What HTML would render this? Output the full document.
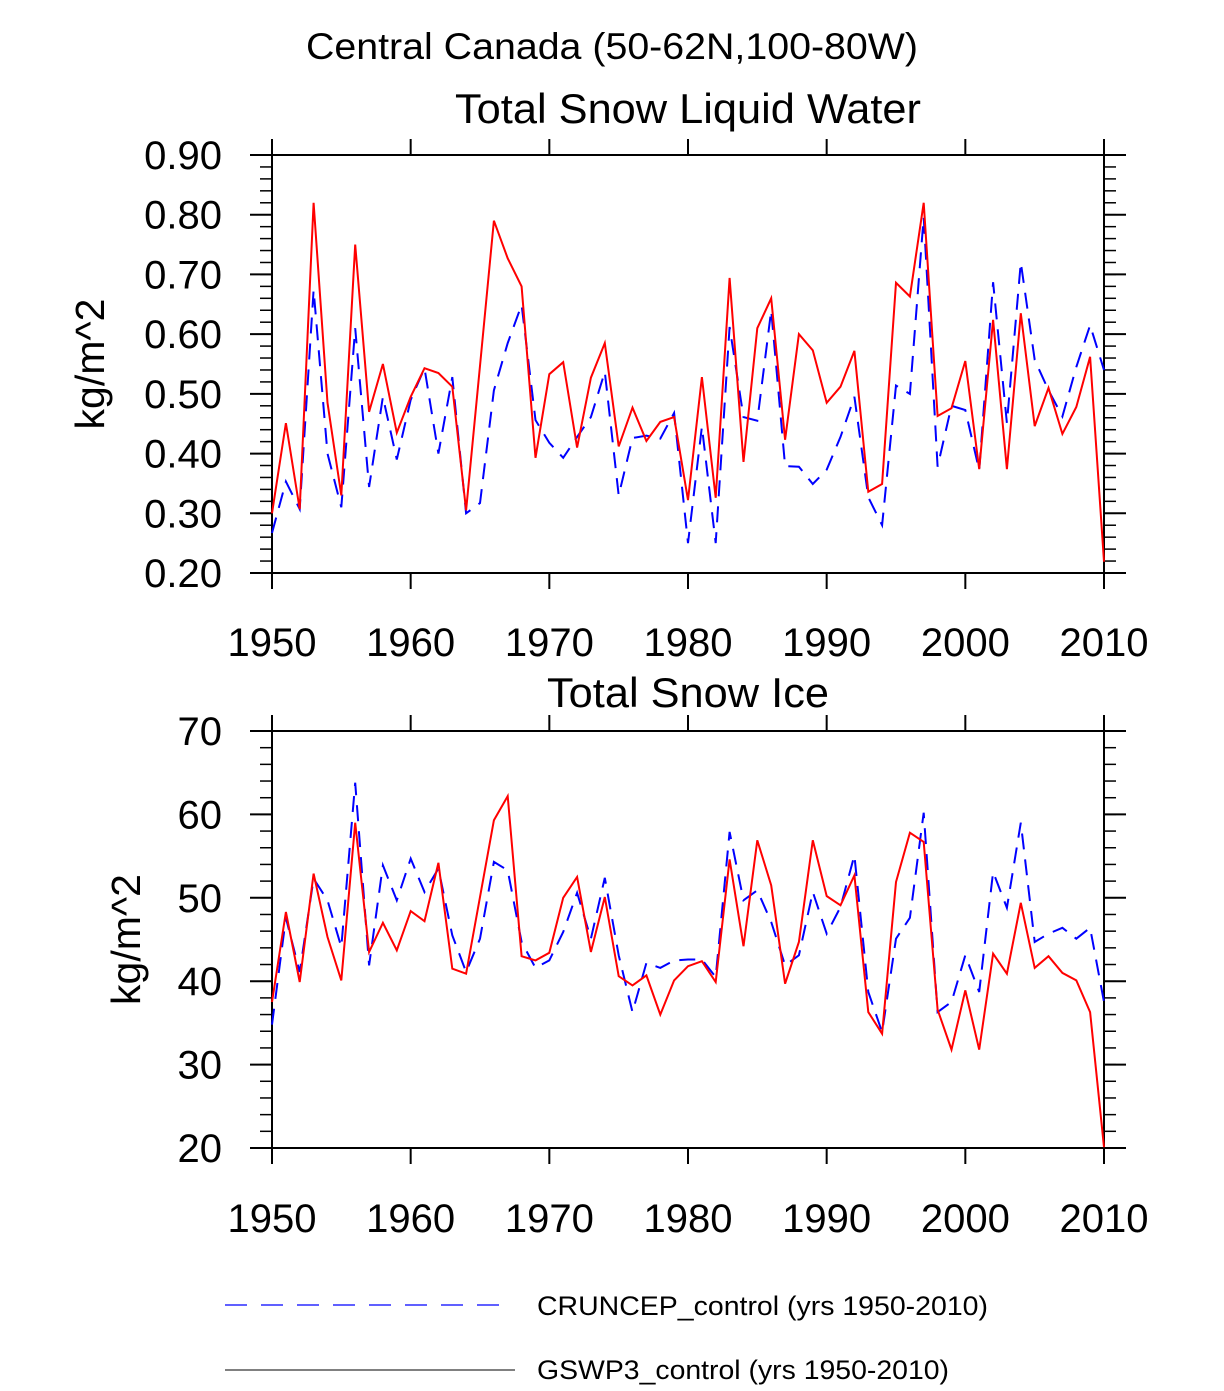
<!DOCTYPE html>
<html><head><meta charset="utf-8"><style>
body{margin:0;background:#fff}
svg text{font-family:"Liberation Sans",sans-serif;fill:#000}
</style></head><body>
<svg id="chart" width="1224" height="1386" viewBox="0 0 1224 1386" xmlns="http://www.w3.org/2000/svg">
<text x="612" y="59" font-size="37" text-anchor="middle" textLength="612" lengthAdjust="spacingAndGlyphs">Central Canada (50-62N,100-80W)</text>
<g id="p1"></g>
<g id="p2"></g>
<g>
<line x1="225" y1="1305" x2="505" y2="1305" stroke="#00f" stroke-width="1.3" stroke-dasharray="22,14"/>
<text x="537" y="1315" font-size="27" textLength="451" lengthAdjust="spacingAndGlyphs">CRUNCEP_control (yrs 1950-2010)</text>
<line x1="225" y1="1370" x2="515" y2="1370" stroke="#000" stroke-width="1"/>
<text x="537" y="1379" font-size="27" textLength="412" lengthAdjust="spacingAndGlyphs">GSWP3_control (yrs 1950-2010)</text>
</g>
</svg>
<script>
const years = [];
for (let y = 1950; y <= 2010; y++) years.push(y);
const liquidGSWP3 = [0.30,0.451,0.307,0.82,0.485,0.33,0.75,0.47,0.55,0.435,0.495,0.543,0.535,0.512,0.305,0.547,0.79,0.727,0.68,0.393,0.533,0.553,0.41,0.527,0.585,0.412,0.477,0.421,0.453,0.461,
0.322,0.528,0.326,0.694,0.386,0.61,0.66,0.423,0.60,0.573,0.485,0.512,0.572,0.336,0.349,0.686,0.663,0.82,0.463,0.476,0.555,0.374,0.624,0.374,0.635,0.446,0.51,0.433,0.478,0.562,0.219];
const liquidCRU = [0.267,0.353,0.307,0.674,0.40,0.31,0.61,0.344,0.495,0.39,0.49,0.543,0.40,0.528,0.30,0.317,0.506,0.585,0.649,0.456,0.418,0.393,0.428,0.461,0.537,0.33,0.426,0.43,0.425,0.468,
0.25,0.445,0.25,0.612,0.461,0.455,0.64,0.379,0.378,0.349,0.373,0.428,0.495,0.327,0.28,0.514,0.50,0.796,0.378,0.48,0.473,0.372,0.687,0.451,0.72,0.557,0.506,0.462,0.545,0.615,0.54];
const iceGSWP3 = [37.5,48.3,39.9,52.9,45.3,40.1,59.0,43.5,47.0,43.7,48.4,47.2,54.2,41.5,40.9,50.1,59.3,62.2,43.0,42.5,43.4,50.0,52.5,43.5,50.1,40.6,39.5,40.7,36.0,40.1,
41.8,42.4,39.9,54.6,44.2,56.9,51.5,39.7,44.7,56.9,50.2,49.1,52.7,36.3,33.7,51.9,57.8,56.7,36.6,31.8,38.9,31.8,43.3,40.9,49.4,41.6,43.0,41.0,40.1,36.3,20.1];
const iceCRU = [34.8,47.6,41.1,52.3,49.7,44.1,63.8,41.9,53.9,49.7,54.7,50.7,53.5,45.5,41.1,45.1,54.3,53.3,44.7,41.6,42.5,45.9,50.6,45.1,52.4,43.1,36.3,42.2,41.6,42.5,
42.6,42.6,40.5,57.9,49.7,50.9,47.1,41.9,43.1,50.7,45.7,48.9,55.1,38.7,33.9,45.1,47.6,60.2,36.3,37.5,43.1,38.7,53.1,48.8,59.0,44.7,45.7,46.4,45.1,46.4,37.5];
const xTicks = [1950,1960,1970,1980,1990,2000,2010];
const liquidTicks = [0.2,0.3,0.4,0.5,0.6,0.7,0.8,0.9];
const liquidTickLabels = ["0.20","0.30","0.40","0.50","0.60","0.70","0.80","0.90"];
const iceTicks = [20,30,40,50,60,70];
const iceTickLabels = ["20","30","40","50","60","70"];

const NS = "http://www.w3.org/2000/svg";
function mk(parent, tag, attrs) {
  const e = document.createElementNS(NS, tag);
  for (const k in attrs) e.setAttribute(k, attrs[k]);
  parent.appendChild(e);
  return e;
}
function panel(g, top, bottom, title, titleLen, titleY, yTitleX, ymin, ymax, ticks, labels, minorStep, red, blue, xLabelY) {
  const L = 272, R = 1104;
  const xs = v => L + (v - 1950) / 60 * (R - L);
  const ys = v => bottom - (v - ymin) / (ymax - ymin) * (bottom - top);
  const t = mk(g, "text", {x: 688, y: titleY, "font-size": 42, "text-anchor": "middle", textLength: titleLen, lengthAdjust: "spacingAndGlyphs"});
  t.textContent = title;
  
  
  const yt = mk(g, "text", {x: 0, y: 0, "font-size": 41, "text-anchor": "middle", transform: `translate(${yTitleX},${(top+bottom)/2}) rotate(-90)`});
  yt.textContent = "kg/m^2";
  
  
  const fr = mk(g, "rect", {x: L, y: top, width: R - L, height: bottom - top, fill: "none", stroke: "#000", "stroke-width": 2});
  
  
  for (let v = ymin; v <= ymax + 1e-9; v += minorStep) {
    const y = ys(v);
    const a = mk(g, "line", {x1: L - 12, y1: y, x2: L, y2: y, stroke: "#000", "stroke-width": 1.5});
    
    
    const b = mk(g, "line", {x1: R, y1: y, x2: R + 12, y2: y, stroke: "#000", "stroke-width": 1.5});
    
    
  }
  ticks.forEach((v, i) => {
    const y = ys(v);
    const a = mk(g, "line", {x1: L - 22, y1: y, x2: L, y2: y, stroke: "#000", "stroke-width": 2});
    
    
    const b = mk(g, "line", {x1: R, y1: y, x2: R + 22, y2: y, stroke: "#000", "stroke-width": 2});
    
    
    const tx = mk(g, "text", {x: 222, y: y + 14, "font-size": 40, "text-anchor": "end"});
    tx.textContent = labels[i];
    
    
  });
  xTicks.forEach(v => {
    const x = xs(v);
    const a = mk(g, "line", {x1: x, y1: bottom, x2: x, y2: bottom + 16, stroke: "#000", "stroke-width": 2});
    
    
    const b = mk(g, "line", {x1: x, y1: top - 16, x2: x, y2: top, stroke: "#000", "stroke-width": 2});
    
    
    const tx = mk(g, "text", {x: x, y: xLabelY, "font-size": 40, "text-anchor": "middle"});
    tx.textContent = String(v);
    
    
  });
  const pts = arr => arr.map((v, i) => xs(years[i]).toFixed(1) + "," + ys(v).toFixed(1)).join(" ");
  const bl = mk(g, "polyline", {points: pts(blue), fill: "none", stroke: "#00f", "stroke-width": 2, "stroke-dasharray": "16,10"});
  
  
  const rl = mk(g, "polyline", {points: pts(red), fill: "none", stroke: "#f00", "stroke-width": 2});
  
  
}
panel(document.getElementById("p1"), 155, 573, "Total Snow Liquid Water", 466, 123, 104, 0.2, 0.9, liquidTicks, liquidTickLabels, 0.02, liquidGSWP3, liquidCRU, 656);
panel(document.getElementById("p2"), 731, 1148, "Total Snow Ice", 282, 707, 140, 20, 70, iceTicks, iceTickLabels, 2, iceGSWP3, iceCRU, 1232);
</script>
</body></html>
